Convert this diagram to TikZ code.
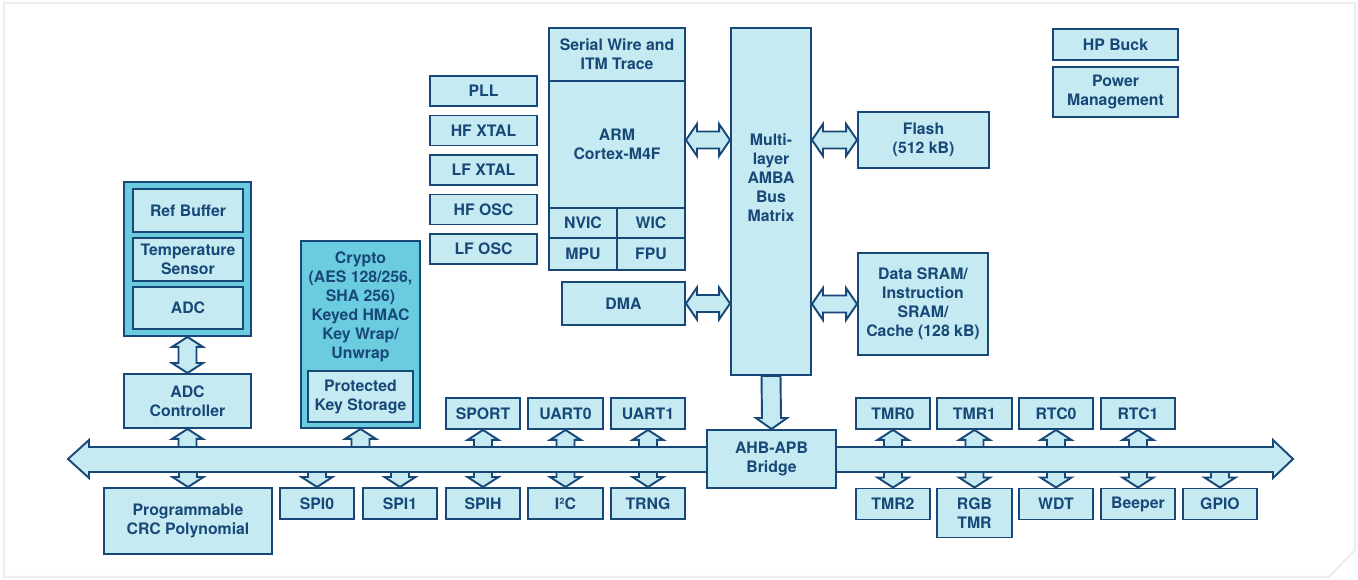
\documentclass[tikz,border=0pt]{standalone}
\usepackage{fontspec}
\setmainfont{TeX Gyre Heros}
\usepackage{xcolor}
\usetikzlibrary{calc}

\definecolor{navy}{HTML}{184878}
\definecolor{pale}{HTML}{C5EAF2}
\definecolor{deep}{HTML}{6BCCE0}
\definecolor{framegray}{HTML}{EDEDED}

\tikzset{
  box/.style 2 args={draw=navy, fill=pale, line width=1.1pt, minimum width=#1*0.2mm, minimum height=#2*0.2mm, inner sep=0pt, align=center, text=navy, font=\fontsize{9}{10.8}\selectfont\bfseries},
  lbl/.style={inner sep=0pt, align=center, text=navy, font=\fontsize{9}{10.8}\selectfont\bfseries},
  fat/.style={draw=navy, fill=pale, line width=1.1pt, line join=miter}
}

% fat arrows: up from the bus, down from the bus, two-headed
\newcommand{\fatup}[1]{\filldraw[fat] (#1.south) -- ++(15.5,10) -- ++(-6.5,0) -- ($(#1.south |- bustop)+(9,0)$) -- ++(-18,0) -- ($(#1.south)+(-9,10)$) -- ++(-6.5,0) -- cycle;}
\newcommand{\fatdown}[1]{\filldraw[fat] (#1.north) -- ++(15.5,-10) -- ++(-6.5,0) -- ($(#1.north |- busbot)+(9,0)$) -- ++(-18,0) -- ($(#1.north)+(-9,-10)$) -- ++(-6.5,0) -- cycle;}
\newcommand{\vdouble}[2]{\filldraw[fat] (#1) -- ++(15.5,10) -- ++(-6.5,0) -- ($(#2)+(9,-10)$) -- ++(6.5,0) -- (#2) -- ++(-15.5,-10) -- ++(6.5,0) -- ($(#1)+(-9,10)$) -- ++(-6.5,0) -- cycle;}
\newcommand{\hdouble}[2]{\filldraw[fat] (#1) -- ++(11,-16) -- ++(0,7.5) -- ($(#2)+(-11,-8.5)$) -- ++(0,-7.5) -- (#2) -- ++(-11,16) -- ++(0,-7.5) -- ($(#1)+(11,8.5)$) -- ++(0,7.5) -- cycle;}

\begin{document}
\begin{tikzpicture}[x=0.2mm, y=-0.2mm]

\useasboundingbox (0,0) rectangle (1358,580);

% frame
\draw[framegray, line width=1.2pt] (4,3) -- (1355,3) -- (1355,550) -- (1329,577) -- (4,577) -- cycle;

% bus
{
\coordinate (bustop) at (0,447);
\coordinate (busbot) at (0,472);
\filldraw[fat] (68,459) -- (89,440) -- (89,447) -- (1273,447) -- (1273,440) -- (1293,459) -- (1273,478) -- (1273,472) -- (89,472) -- (89,478) -- cycle;
}

% core and bus matrix
{
\node[box={136}{53}] (swd) at (617,54.5) {Serial Wire and\\ITM Trace};
\node[box={136}{127}] (arm) at (617,144.5) {ARM\\Cortex-M4F};
\node[box={68}{30}] (nvic) at (583,223) {NVIC};
\node[box={68}{30}] (wic) at (651,223) {WIC};
\node[box={68}{32}] (mpu) at (583,254) {MPU};
\node[box={68}{32}] (fpu) at (651,254) {FPU};
\node[box={123}{43}] (dma) at (623.5,303.5) {DMA};

\node[box={80}{347}] (matrix) at (771,201.5) {};
\node[lbl] (matrixtext) at (771,178) {Multi-\\layer\\AMBA\\Bus\\Matrix};

\node[box={131}{56}] (flash) at (923.5,140) {Flash\\(512 kB)};
\node[box={130}{102}] (sram) at (923,304) {Data SRAM/\\Instruction\\SRAM/\\Cache (128 kB)};

\node[box={125}{31}] (hpbuck) at (1115.5,44.5) {HP Buck};
\node[box={125}{50}] (power) at (1115.5,92) {Power\\Management};
}

% clocks
{
\node[box={107}{30}] (pll) at (483.5,91) {PLL};
\node[box={107}{30}] (hfxtal) at (483.5,130.5) {HF XTAL};
\node[box={107}{30}] (lfxtal) at (483.5,170) {LF XTAL};
\node[box={107}{30}] (hfosc) at (483.5,209.5) {HF OSC};
\node[box={107}{30}] (lfosc) at (483.5,249) {LF OSC};
}

% analog and crypto
{
\node[box={127}{154}, fill=deep] (adcgroup) at (187.5,259) {};
\node[box={110}{43}] (refbuf) at (188,210.5) {Ref Buffer};
\node[box={110}{43}] (temp) at (188,259.5) {Temperature\\Sensor};
\node[box={110}{42}] (adc) at (188,308) {ADC};
\node[box={127}{54}] (adcctrl) at (187.5,401) {ADC\\Controller};
\node[box={168}{66}] (crc) at (188,521) {Programmable\\CRC Polynomial};

\node[box={119}{187}, fill=deep] (crypto) at (360.5,334.5) {};
\node[lbl] (cryptotext) at (360.5,307) {Crypto\\(AES 128/256,\\SHA 256)\\Keyed HMAC\\Key Wrap/\\Unwrap};
\node[box={105}{51}] (keystore) at (360.5,396.5) {Protected\\Key Storage};
}

% peripherals
{
\node[box={74}{31}] (spi0) at (317,503.5) {SPI0};
\node[box={74}{31}] (spi1) at (400,503.5) {SPI1};
\node[box={74}{31}] (spih) at (483,503.5) {SPIH};
\node[box={75}{31}] (i2c) at (565.5,503.5) {I²C};
\node[box={74}{31}] (trng) at (648,503.5) {TRNG};

\node[box={74}{31}] (sport) at (483,413.5) {SPORT};
\node[box={75}{31}] (uart0) at (565.5,413.5) {UART0};
\node[box={74}{31}] (uart1) at (648,413.5) {UART1};

\node[box={129}{58}] (bridge) at (771.5,459) {AHB-APB\\Bridge};

\node[box={74}{31}] (tmr0) at (893,413.5) {TMR0};
\node[box={75}{31}] (tmr1) at (974.5,413.5) {TMR1};
\node[box={74}{31}] (rtc0) at (1056,413.5) {RTC0};
\node[box={74}{31}] (rtc1) at (1138,413.5) {RTC1};

\node[box={74}{31}] (tmr2) at (893,504) {TMR2};
\node[box={75}{49}] (rgbtmr) at (974.5,513) {RGB\\TMR};
\node[box={74}{31}] (wdt) at (1056,504) {WDT};
\node[box={74}{31}] (beeper) at (1138,504) {Beeper};
\node[box={74}{31}] (gpio) at (1220,504) {GPIO};
}

% arrows
{
\hdouble{arm.east |- flash}{matrix.west |- flash}
\hdouble{dma.east}{matrix.west |- dma}
\hdouble{matrix.east |- flash}{flash.west}
\hdouble{matrix.east |- sram}{sram.west}

\filldraw[fat] (bridge.north) -- ++(15.5,-11) -- ++(-6,0) -- ($(matrix.south)+(9.5,0)$) -- ++(-19,0) -- ($(bridge.north)+(-9.5,-11)$) -- ++(-6,0) -- cycle;

\vdouble{adcgroup.south}{adcctrl.north}

\fatup{adcctrl}
\fatup{crypto}
\fatup{sport}
\fatup{uart0}
\fatup{uart1}
\fatup{tmr0}
\fatup{tmr1}
\fatup{rtc0}
\fatup{rtc1}

\fatdown{crc}
\fatdown{spi0}
\fatdown{spi1}
\fatdown{spih}
\fatdown{i2c}
\fatdown{trng}
\fatdown{tmr2}
\fatdown{rgbtmr}
\fatdown{wdt}
\fatdown{beeper}
\fatdown{gpio}
}

\end{tikzpicture}
\end{document}
